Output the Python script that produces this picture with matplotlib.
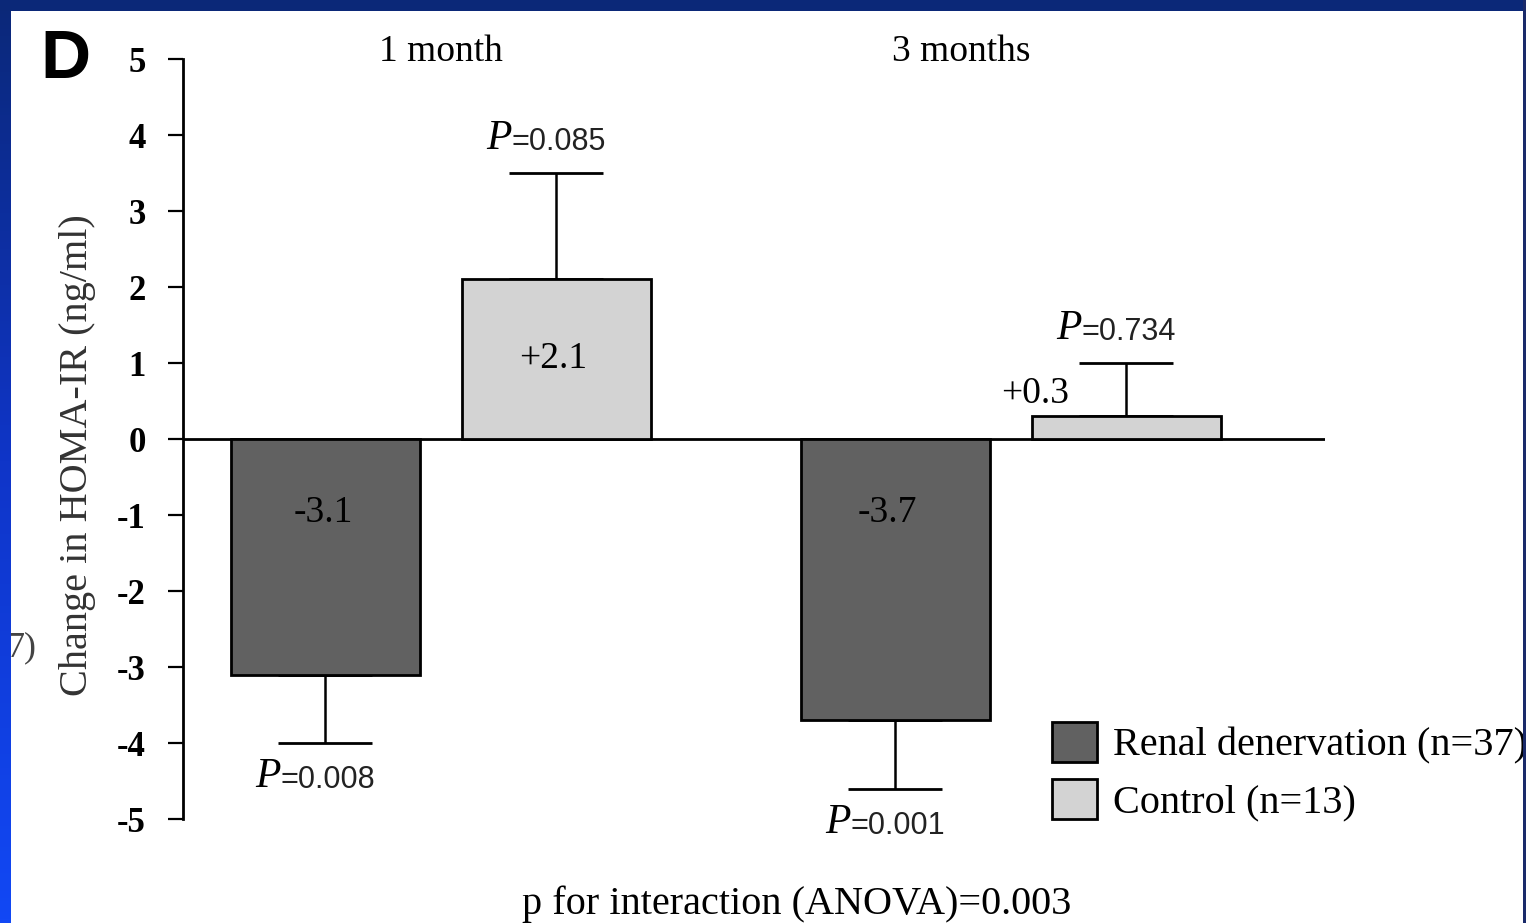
import matplotlib
matplotlib.use("Agg")
import matplotlib.pyplot as plt
import matplotlib.patches as mpatches
from matplotlib.colors import LinearSegmentedColormap
import numpy as np

# HOMA-IR change after renal denervation vs control
groups = ["1 month", "3 months"]
series = ["Renal denervation (n=37)", "Control (n=13)"]
changes = [[-3.1, -3.7], [2.1, 0.3]]
errors = [[0.9, 0.9], [1.4, 0.7]]
value_labels = [["-3.1", "-3.7"], ["+2.1", "+0.3"]]
p_values = [["=0.008", "=0.001"], ["=0.085", "=0.734"]]
yticks = [5, 4, 3, 2, 1, 0, -1, -2, -3, -4, -5]

W, H = 1526, 923
serif = "Liberation Serif"
sans = "Liberation Sans"

fig = plt.figure(figsize=(W / 100, H / 100), dpi=100)
fig.patch.set_facecolor("white")

def fx(px):
    return px / W

def fy(py):
    return 1 - py / H

ax = fig.add_axes([fx(183), fy(819), fx(1325) - fx(183), fy(59) - fy(819)])
ax.set_xlim(-0.4526, 1.551)
ax.set_ylim(-5, 5)
for s in ["top", "right", "bottom"]:
    ax.spines[s].set_visible(False)
ax.spines["left"].set_linewidth(2)
ax.set_xticks([])
ax.set_yticks(yticks)
ax.set_yticklabels([str(t) for t in yticks], fontfamily=serif, fontweight="bold", fontsize=25)
ax.tick_params(axis="y", direction="out", length=11, width=1.6, pad=16)
ax.axhline(0, color="black", lw=2, zorder=1)

colors = ["#616161", "#d3d3d3"]
width = 0.332
offsets = [-0.2026, 0.2026]
x = np.arange(len(groups))

for i in range(len(series)):
    xs = x + offsets[i]
    ax.bar(xs, changes[i], width=width, color=colors[i], edgecolor="black",
           linewidth=2, label=series[i], zorder=2)
    for j in range(len(groups)):
        v = changes[i][j]
        e = errors[i][j]
        sign = 1 if v > 0 else -1
        ax.errorbar(xs[j], v, yerr=[[e if v < 0 else 0], [e if v > 0 else 0]],
                    fmt="none", ecolor="black", elinewidth=1.8, capsize=34,
                    capthick=2, zorder=1)
        # P label beyond the error bar cap
        py = v + sign * (e + 0.45)
        ax.annotate("P", (xs[j], py), xytext=(-45, 0), textcoords="offset pixels",
                    ha="right", va="center", fontfamily=serif, fontstyle="italic",
                    fontsize=30, annotation_clip=False)
        ax.annotate(p_values[i][j], (xs[j], py), xytext=(-45, -3), textcoords="offset pixels",
                    ha="left", va="center", fontfamily=sans, fontsize=22,
                    color="#222222", annotation_clip=False)

# value labels on the bars
ax.text(x[0] + offsets[0] - 0.004, -0.97, value_labels[0][0], ha="center", va="center",
        fontfamily=serif, fontsize=27)
ax.text(x[1] + offsets[0] - 0.014, -0.97, value_labels[0][1], ha="center", va="center",
        fontfamily=serif, fontsize=27)
ax.text(x[0] + offsets[1] - 0.006, changes[1][0] / 2, value_labels[1][0], ha="center",
        va="center", fontfamily=serif, fontsize=27)
ax.text(x[1] + offsets[1] - 0.16, changes[1][1] + 0.3, value_labels[1][1],
        ha="center", va="center", fontfamily=serif, fontsize=27)

for j, g in enumerate(groups):
    ax.text(x[j] + (0.0 if j == 0 else -0.087), 5.1, g, ha="center",
            va="center", fontfamily=serif, fontsize=27)

ax.set_ylabel("Change in HOMA-IR (ng/ml)", fontfamily=serif, fontsize=29,
              color="#333333")
ax.yaxis.set_label_coords(-0.076, 0.479)

handles = [mpatches.Patch(facecolor=colors[i], edgecolor="black", linewidth=2)
           for i in range(len(series))]
fig.legend(handles, series, loc="upper left", bbox_to_anchor=(fx(1052), fy(722)),
           bbox_transform=fig.transFigure, frameon=False, borderpad=0,
           borderaxespad=0, handlelength=1.12, handleheight=1.15,
           handletextpad=0.4, labelspacing=0.35,
           prop={"family": serif, "size": 29})

fig.text(fx(65), fy(60), "D", fontfamily=sans, fontweight="bold", fontsize=50,
         ha="center", va="center")
fig.text(fx(797), fy(904), "p for interaction (ANOVA)=0.003", fontfamily=serif,
         fontsize=29, ha="center", va="center")
fig.text(fx(22), fy(648), "7)", fontfamily=serif, fontsize=26, ha="center",
         va="center", color="#444444")

# blue frame around the slide
navy = "#0b2878"
fig.patches.append(mpatches.Rectangle((0, fy(11)), 1, 11 / H, transform=fig.transFigure,
                                      facecolor=navy, edgecolor="none", zorder=10))
fig.patches.append(mpatches.Rectangle((fx(1523), 0), 3 / W, 1, transform=fig.transFigure,
                                      facecolor="#1a2a6a", edgecolor="none", zorder=10))
band = fig.add_axes([0, 0, fx(11), 1])
band.set_zorder(10)
cmap = LinearSegmentedColormap.from_list("slide", [navy, "#0f35c8", "#1248f5"])
band.imshow(np.linspace(0, 1, 256).reshape(-1, 1), aspect="auto", cmap=cmap)
band.axis("off")

fig.savefig("out.png", dpi=100)
